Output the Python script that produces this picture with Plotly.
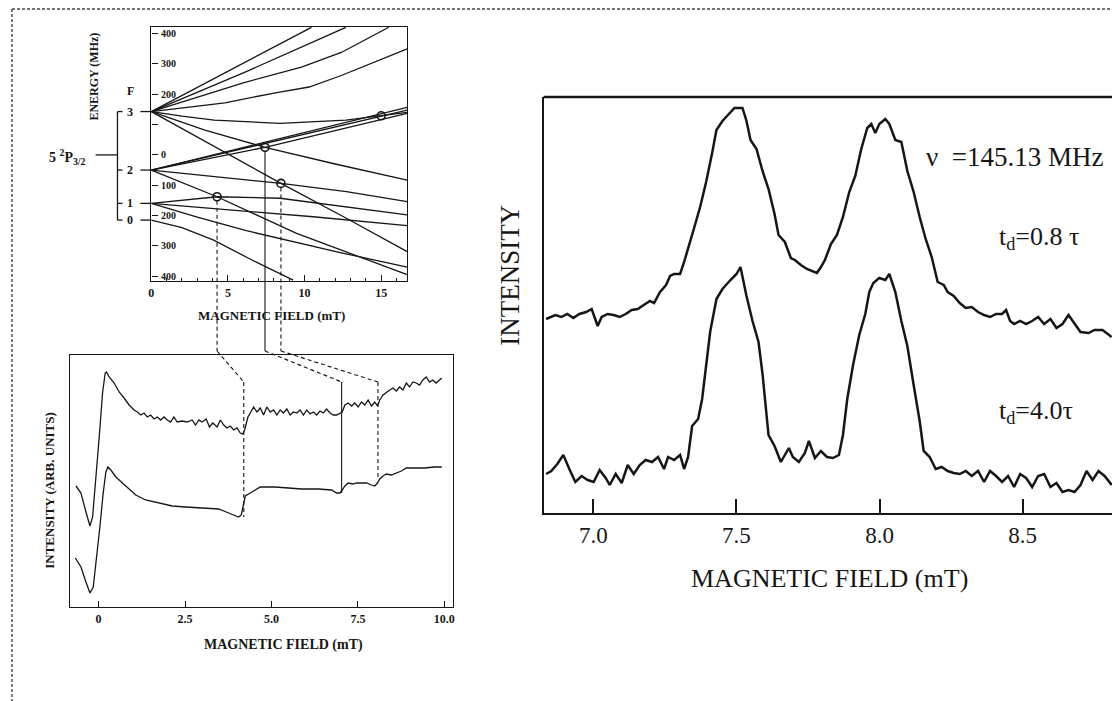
import plotly.graph_objects as go

W, H = 1114, 701
INK = "#161616"
SERIF = "Liberation Serif, 'Times New Roman', serif"

# ---------------- top-left: energy levels vs field ----------------
F_LABELS = ["3", "2", "1", "0"]
F_LEVEL_E = [143, -50, -160, -215]

U1_B = [0, 5.0, 10.45];                  U1_E = [143, 276, 421]
U2_B = [0, 6.2, 12.7];                   U2_E = [143, 275, 421]
U3_B = [0, 3, 6, 9.8, 12.4, 15.5];       U3_E = [143, 190, 238, 290, 338, 421]
U4_B = [0, 4.8, 8.1, 10.3, 12.4, 16.7];  U4_E = [143, 172, 205, 224, 262, 350]
L5_B = [0, 2, 4.1, 8.4, 12.7, 15.0, 16.7]; L5_E = [143, 128, 115, 104, 115, 129, 140]
R1_B = [0, 16.7];                        R1_E = [-50, 157]
R2_B = [0, 16.7];                        R2_E = [-50, 148]
R3_B = [0, 7.42, 16.7];                  R3_E = [-50, 25, 137]
D1_B = [0, 3.5, 7.42, 12, 16.7];         D1_E = [143, 82, 25, -30, -83]
D2_B = [0, 4.72, 8.46, 12.73, 16.7];     D2_E = [143, 11, -94, -209, -319]
D3_B = [0, 4.07, 8.46, 12.73, 16.7];     D3_E = [-50, -72, -94, -121, -154]
D4_B = [0, 4.29, 9.48, 16.7];            D4_E = [-50, -138, -259, -395]
F1A_B = [0, 4.29, 8.4, 12.73, 16.7];     F1A_E = [-160, -138, -143, -171, -198]
F1B_B = [0, 4.07, 10.56, 16.7];          F1B_E = [-160, -176, -204, -233]
F1C_B = [0, 3, 6.2, 9.5, 12.4, 16.7];    F1C_E = [-160, -205, -250, -290, -323, -370]
F0_B = [0, 2, 4.07, 6.5, 9.26];          F0_E = [-215, -240, -281, -345, -413]

TOP_CURVES = [(U1_B, U1_E), (U2_B, U2_E), (U3_B, U3_E), (U4_B, U4_E), (L5_B, L5_E),
              (R1_B, R1_E), (R2_B, R2_E), (R3_B, R3_E), (D1_B, D1_E), (D2_B, D2_E),
              (D3_B, D3_E), (D4_B, D4_E), (F1A_B, F1A_E), (F1B_B, F1B_E),
              (F1C_B, F1C_E), (F0_B, F0_E)]

CIRCLE_B = [4.29, 7.42, 8.46, 15.0]
CIRCLE_E = [-138, 25, -94, 129]

ENERGY_TICKS = [400, 300, 200, 100, 0, -100, -200, -300, -400]
ENERGY_TICKTEXT = ["400", "300", "200", "", "0", "100", "200", "300", "400"]
TOP_B_TICKS = [0, 5, 10, 15]

# ---------------- bottom-left: intensity vs field ----------------
BL_UP_B = [-0.653, -0.509, -0.365, -0.250, -0.173, -0.077, 0.019, 0.115, 0.192, 0.230,
           0.307, 0.451, 0.595, 0.739, 0.883, 1.027, 1.123, 1.219, 1.315, 1.411,
           1.507, 1.603, 1.699, 1.795, 1.891, 1.987, 2.083, 2.179, 2.275, 2.419,
           2.563, 2.707, 2.803, 2.899, 2.995, 3.111, 3.207, 3.303, 3.427, 3.523,
           3.619, 3.715, 3.811, 3.907, 4.003, 4.099, 4.167, 4.224, 4.320, 4.388,
           4.484, 4.580, 4.676, 4.772, 4.868, 4.964, 5.060, 5.156, 5.252, 5.348,
           5.444, 5.540, 5.636, 5.732, 5.828, 5.924, 6.020, 6.116, 6.212, 6.308,
           6.404, 6.500, 6.596, 6.692, 6.788, 6.884, 6.980, 7.047, 7.124, 7.220,
           7.316, 7.412, 7.508, 7.604, 7.700, 7.796, 7.892, 7.988, 8.065, 8.132,
           8.228, 8.324, 8.420, 8.516, 8.612, 8.708, 8.804, 8.900, 8.996, 9.092,
           9.188, 9.284, 9.380, 9.476, 9.572, 9.668, 9.764, 9.860, 9.927]
BL_UP_V = [121, 114, 95, 81, 90, 127, 170, 214, 234, 235,
           230, 224, 215, 209, 202, 197, 195, 192, 194, 190,
           192, 188, 190, 187, 190, 187, 185, 190, 185, 186,
           185, 187, 182, 187, 185, 188, 180, 184, 180, 187,
           182, 179, 181, 177, 179, 174, 173, 177, 190, 194,
           200, 195, 199, 192, 200, 195, 197, 192, 197, 194,
           198, 192, 195, 194, 197, 192, 197, 193, 195, 192,
           196, 194, 198, 194, 192, 192, 194, 195, 202, 204,
           201, 204, 200, 205, 202, 207, 201, 205, 201, 207,
           212, 215, 217, 219, 216, 220, 217, 224, 220, 225,
           224, 222, 227, 230, 225, 227, 224, 227, 229]

BL_LO_B = [-0.672, -0.509, -0.365, -0.250, -0.154, -0.058, 0.038, 0.134, 0.211, 0.269,
           0.355, 0.499, 0.691, 0.883, 1.075, 1.363, 1.747, 2.131, 2.515, 2.995,
           3.475, 3.763, 3.955, 4.051, 4.128, 4.186, 4.243, 4.388, 4.532, 4.676,
           4.820, 5.108, 5.492, 5.876, 6.356, 6.740, 6.884, 6.980, 7.047, 7.124,
           7.220, 7.364, 7.460, 7.604, 7.748, 7.892, 7.988, 8.065, 8.132, 8.228,
           8.324, 8.468, 8.612, 8.756, 8.900, 9.140, 9.428, 9.716, 9.927]
BL_LO_V = [49, 40, 25, 14, 20, 47, 80, 114, 135, 140,
           137, 130, 124, 117, 112, 107, 104, 101, 100, 99,
           98, 94, 91, 90, 92, 100, 111, 114, 117, 120,
           120, 120, 119, 118, 118, 117, 114, 114, 117, 121,
           124, 123, 124, 124, 124, 122, 121, 124, 128, 131,
           133, 132, 134, 136, 139, 139, 139, 140, 140]

BL_TICKS = [0, 2.5, 5, 7.5, 10]
BL_TICKTEXT = ["0", "2.5", "5.0", "7.5", "10.0"]

RES_B = [4.20, 7.03, 8.08]      # resonance positions in the lower-left scan
RES_V = [90, 114, 130]          # where each guide line ends on the lower trace
SLANT_V = 225                   # level where the guide lines turn vertical

# ---------------- right: two scans ----------------
R_UP_B = [6.835, 6.867, 6.888, 6.909, 6.930, 6.951, 6.975, 6.994, 7.015, 7.029,
          7.050, 7.071, 7.092, 7.113, 7.134, 7.155, 7.176, 7.198, 7.212, 7.233,
          7.254, 7.268, 7.282, 7.303, 7.317, 7.338, 7.352, 7.373, 7.394, 7.415,
          7.430, 7.451, 7.472, 7.493, 7.521, 7.535, 7.549, 7.570, 7.591, 7.612,
          7.633, 7.647, 7.669, 7.690, 7.704, 7.725, 7.746, 7.767, 7.781, 7.795,
          7.809, 7.830, 7.851, 7.872, 7.894, 7.915, 7.936, 7.957, 7.971, 7.985,
          7.999, 8.020, 8.034, 8.055, 8.076, 8.097, 8.119, 8.140, 8.161, 8.182,
          8.203, 8.224, 8.238, 8.259, 8.280, 8.301, 8.322, 8.344, 8.365, 8.386,
          8.407, 8.428, 8.442, 8.456, 8.470, 8.491, 8.512, 8.533, 8.554, 8.575,
          8.597, 8.618, 8.639, 8.660, 8.681, 8.702, 8.730, 8.751, 8.779, 8.800, 8.811]
R_UP_V = [194, 198, 196, 199, 195, 199, 201, 204, 187, 196,
          199, 198, 196, 199, 203, 204, 208, 212, 210, 221,
          228, 237, 239, 239, 251, 273, 285, 306, 331, 360,
          383, 392, 399, 405, 405, 392, 373, 364, 342, 324,
          299, 278, 271, 255, 253, 248, 244, 242, 240, 246,
          253, 269, 278, 296, 321, 337, 364, 385, 389, 380,
          389, 394, 389, 373, 371, 342, 321, 296, 274, 256,
          231, 228, 221, 217, 210, 205, 206, 201, 198, 196,
          199, 199, 203, 192, 189, 192, 189, 192, 196, 189,
          194, 185, 189, 198, 189, 181, 180, 183, 183, 178, 176]

R_LO_B = [6.835, 6.853, 6.874, 6.895, 6.916, 6.937, 6.959, 6.980, 7.001, 7.022,
          7.043, 7.057, 7.078, 7.099, 7.120, 7.141, 7.162, 7.183, 7.205, 7.226,
          7.247, 7.261, 7.282, 7.303, 7.317, 7.331, 7.345, 7.366, 7.380, 7.394,
          7.408, 7.430, 7.451, 7.479, 7.500, 7.514, 7.535, 7.556, 7.577, 7.591,
          7.612, 7.633, 7.655, 7.669, 7.683, 7.697, 7.718, 7.739, 7.753, 7.774,
          7.795, 7.816, 7.837, 7.858, 7.872, 7.887, 7.908, 7.929, 7.950, 7.964,
          7.978, 7.999, 8.020, 8.034, 8.055, 8.076, 8.097, 8.119, 8.140, 8.154,
          8.175, 8.196, 8.217, 8.238, 8.259, 8.280, 8.301, 8.322, 8.344, 8.365,
          8.386, 8.407, 8.428, 8.449, 8.470, 8.491, 8.512, 8.533, 8.554, 8.575,
          8.597, 8.618, 8.639, 8.660, 8.681, 8.702, 8.723, 8.744, 8.765, 8.786, 8.811]
R_LO_V = [39, 42, 49, 58, 44, 31, 37, 33, 31, 43,
          35, 28, 39, 30, 48, 39, 48, 53, 51, 56,
          44, 56, 53, 58, 44, 56, 87, 94, 114, 149,
          181, 214, 224, 233, 239, 246, 217, 192, 171, 139,
          78, 67, 51, 58, 65, 56, 51, 60, 72, 55,
          62, 56, 55, 58, 78, 114, 149, 178, 199, 221,
          230, 235, 233, 239, 221, 192, 167, 128, 92, 62,
          56, 44, 46, 42, 40, 39, 42, 37, 42, 31,
          42, 37, 31, 37, 26, 39, 35, 26, 37, 39,
          26, 30, 21, 23, 21, 28, 42, 33, 42, 37, 28]

R_TICKS = [7.0, 7.5, 8.0, 8.5]
R_TICKTEXT = ["7.0", "7.5", "8.0", "8.5"]

# ---------------- geometry ----------------
TOP_XD = (149 / W, 406 / W); TOP_YD = (1 - 281 / H, 1 - 27 / H)
TOP_XR = (0, 16.7);          TOP_YR = (-416, 422)
BL_XD = (67 / W, 452 / W);   BL_YD = (1 - 607 / H, 1 - 355 / H)
BL_XR = (-0.835, 10.25);     BL_YR = (0, 252)
R_XD = (543 / W, 1.0);       R_YD = (1 - 513 / H, 1 - 97 / H)
R_XR = (6.826, 8.812);       R_YR = (0, 416)


def px(x, y):
    return x / W, 1 - y / H


def lin(dom, rng, v):
    return dom[0] + (v - rng[0]) / (rng[1] - rng[0]) * (dom[1] - dom[0])


fig = go.Figure()

for b, e in TOP_CURVES:
    fig.add_trace(go.Scatter(x=b, y=e, mode="lines", line=dict(color=INK, width=1.3),
                             xaxis="x", yaxis="y", hoverinfo="skip", showlegend=False))
fig.add_trace(go.Scatter(x=CIRCLE_B, y=CIRCLE_E, mode="markers",
                         marker=dict(symbol="circle-open", size=8, color=INK, line=dict(width=1.6)),
                         xaxis="x", yaxis="y", hoverinfo="skip", showlegend=False))

for b, v in [(BL_UP_B, BL_UP_V), (BL_LO_B, BL_LO_V)]:
    fig.add_trace(go.Scatter(x=b, y=v, mode="lines", line=dict(color=INK, width=1.3),
                             xaxis="x2", yaxis="y2", hoverinfo="skip", showlegend=False))

for b, v in [(R_UP_B, R_UP_V), (R_LO_B, R_LO_V)]:
    fig.add_trace(go.Scatter(x=b, y=v, mode="lines", line=dict(color=INK, width=2.5),
                             xaxis="x3", yaxis="y3", hoverinfo="skip", showlegend=False))

shapes = []


def seg(x0, y0, x1, y1, width=1.2, dash="solid", color=INK):
    shapes.append(dict(type="line", xref="paper", yref="paper", x0=x0, y0=y0, x1=x1, y1=y1,
                       line=dict(color=color, width=width, dash=dash)))


# outer frame (scanned page border)
seg(*px(9, 9), *px(1114, 9), width=1.4, dash="3px,2px", color="#444")
seg(*px(9, 9), *px(9, 701), width=1.4, dash="3px,2px", color="#444")

# right plot top border
seg(*px(543, 97), *px(1114, 97), width=2.4)

# hyperfine level bracket
bx_v, _ = px(115, 0)
bx_s, _ = px(120, 0)
lx0, _ = px(138, 0)
lx1, _ = px(149, 0)
ly = [lin(TOP_YD, TOP_YR, e) for e in F_LEVEL_E]
seg(bx_v, ly[0], bx_v, ly[-1], width=1.3)
for y in ly:
    seg(bx_v, y, bx_s, y, width=1.3)
    seg(lx0, y, lx1, y, width=1.3)
seg(px(93, 0)[0], lin(TOP_YD, TOP_YR, 0), bx_v, lin(TOP_YD, TOP_YR, 0), width=1.3)

# guide lines from crossings to the scan
GAP_Y = 1 - 351 / H
for i in range(3):
    xt = lin(TOP_XD, TOP_XR, CIRCLE_B[i])
    yt = lin(TOP_YD, TOP_YR, CIRCLE_E[i]) - 4 / H
    xb = lin(BL_XD, BL_XR, RES_B[i])
    ys = lin(BL_YD, BL_YR, SLANT_V)
    ye = lin(BL_YD, BL_YR, RES_V[i])
    vd = "solid" if i == 1 else "4px,3px"
    seg(xt, yt, xt, GAP_Y, width=1.1, dash=vd)
    seg(xt, GAP_Y, xb, ys, width=1.1, dash="4px,3px")
    seg(xb, ys, xb, ye, width=1.1, dash=vd)

ann = []


def text(x, y, s, size, bold=False, angle=0, xanchor="center", yanchor="middle"):
    xx, yy = px(x, y)
    ann.append(dict(x=xx, y=yy, xref="paper", yref="paper", text=s, showarrow=False,
                    textangle=angle, xanchor=xanchor, yanchor=yanchor,
                    font=dict(family=SERIF, size=size, color=INK,
                              weight="bold" if bold else "normal")))


def bold_at(xp, yp, s, size, xanchor="center"):
    ann.append(dict(x=xp, y=yp, xref="paper", yref="paper", text=s, showarrow=False,
                    xanchor=xanchor, yanchor="middle",
                    font=dict(family=SERIF, size=size, color=INK, weight="bold")))


# top-left labels
text(91, 77, "ENERGY (MHz)", 12, bold=True, angle=-90)
text(128, 91, "F", 12, bold=True)
for lab, y in zip(F_LABELS, ly):
    bold_at(px(128, 0)[0], y, lab, 12)
for val, lab in zip(ENERGY_TICKS, ENERGY_TICKTEXT):
    if lab:
        bold_at(px(157, 0)[0], lin(TOP_YD, TOP_YR, val), lab, 10, xanchor="left")
text(65, 157, "5 <sup>2</sup>P<sub>3/2</sub>", 14, bold=True)
text(270, 315, "MAGNETIC FIELD (mT)", 13, bold=True)

# bottom-left labels
text(47, 490, "INTENSITY (ARB. UNITS)", 13, bold=True, angle=-90)
text(282, 645, "MAGNETIC FIELD (mT)", 14, bold=True)

# right labels
text(509, 275, "INTENSITY", 27, angle=-90)
text(830, 578, "MAGNETIC FIELD (mT)", 26)
text(925, 157, "ν  =145.13 MHz", 27, xanchor="left")
text(998, 238, "t<sub>d</sub>=0.8 τ", 26, xanchor="left")
text(998, 412, "t<sub>d</sub>=4.0τ", 26, xanchor="left")

axis_common = dict(showgrid=False, zeroline=False, linecolor=INK, tickcolor=INK)

fig.update_layout(
    width=W, height=H, margin=dict(l=0, r=0, t=0, b=0),
    paper_bgcolor="white", plot_bgcolor="white", showlegend=False,
    xaxis=dict(domain=list(TOP_XD), range=list(TOP_XR), anchor="y", showline=True, mirror=True,
               linewidth=1.4, tickvals=TOP_B_TICKS, ticks="inside", ticklen=6, tickwidth=1.2,
               minor=dict(tickmode="linear", tick0=0, dtick=1, ticks="inside", ticklen=3,
                          tickcolor=INK),
               tickfont=dict(family=SERIF, size=12, color=INK, weight="bold"), **axis_common),
    yaxis=dict(domain=list(TOP_YD), range=list(TOP_YR), anchor="x", showline=True, mirror=True,
               linewidth=1.4, tickvals=ENERGY_TICKS, ticks="inside",
               ticklen=6, tickwidth=1.2, showticklabels=False, **axis_common),
    xaxis2=dict(domain=list(BL_XD), range=list(BL_XR), anchor="y2", showline=True, mirror=True,
                linewidth=1.4, tickvals=BL_TICKS, ticktext=BL_TICKTEXT, ticks="inside",
                ticklen=6, tickwidth=1.2,
                tickfont=dict(family=SERIF, size=12, color=INK, weight="bold"), **axis_common),
    yaxis2=dict(domain=list(BL_YD), range=list(BL_YR), anchor="x2", showline=True, mirror=True,
                linewidth=1.4, showticklabels=False, ticks="", **axis_common),
    xaxis3=dict(domain=list(R_XD), range=list(R_XR), anchor="y3", showline=True,
                linewidth=2.4, tickvals=R_TICKS, ticktext=R_TICKTEXT, ticks="inside",
                ticklen=14, tickwidth=2.2,
                tickfont=dict(family=SERIF, size=23, color=INK), **axis_common),
    yaxis3=dict(domain=list(R_YD), range=list(R_YR), anchor="x3", showline=True,
                linewidth=2.4, showticklabels=False, ticks="", **axis_common),
    shapes=shapes,
    annotations=ann,
)

fig.write_html("out.html")
